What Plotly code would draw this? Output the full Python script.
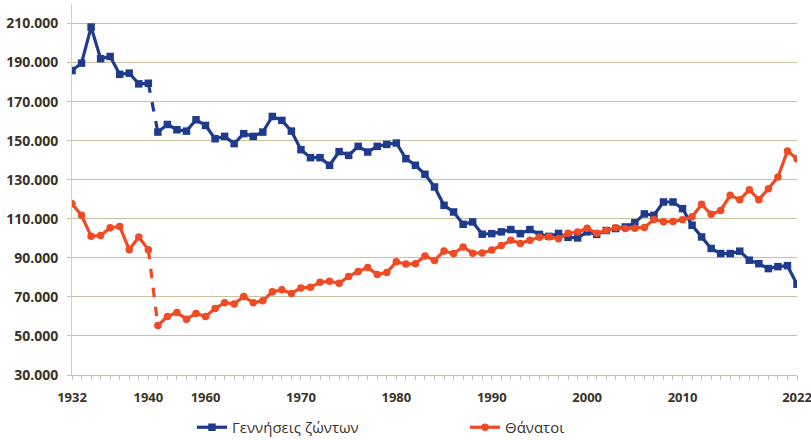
import plotly.graph_objects as go

# ---- data (thousands) ----
years_pre = [str(y) for y in range(1932, 1941)]
births_pre = [185.9, 189.7, 208.2, 192.0, 193.1, 184.0, 184.6, 179.1, 179.4]
deaths_pre = [117.7, 111.8, 101.0, 101.5, 105.4, 106.1, 94.2, 100.7, 94.2]

years_post = [str(y) for y in range(1955, 2023)]
births_post = [154.4, 158.3, 155.6, 154.9, 160.7, 157.8, 151.0, 152.2, 148.5, 153.6,
               152.2, 154.4, 162.4, 160.4, 154.9, 145.4, 141.3, 141.3, 137.4, 144.4,
               142.5, 147.1, 144.2, 147.1, 148.1, 148.8, 140.8, 137.4, 132.8, 126.3,
               116.9, 113.5, 107.2, 108.4, 102.1, 102.4, 103.3, 104.5, 102.4, 104.5,
               102.0, 101.0, 102.5, 100.5, 100.2, 103.3, 102.0, 104.0, 105.0, 105.8,
               108.0, 112.5, 111.8, 118.6, 118.6, 115.2, 106.7, 100.7, 94.8, 92.2,
               92.2, 93.4, 88.8, 87.0, 84.5, 85.5, 86.0, 76.5]
deaths_post = [55.3, 60.0, 62.0, 58.6, 61.5, 60.0, 64.0, 67.0, 66.4, 70.2,
               67.0, 68.0, 72.6, 73.6, 71.8, 74.6, 75.0, 77.5, 78.0, 77.0,
               80.5, 83.0, 85.0, 81.5, 82.5, 88.0, 86.8, 87.0, 91.0, 88.7,
               93.5, 92.2, 95.6, 92.4, 92.5, 94.0, 96.3, 99.0, 97.4, 99.0,
               100.5, 100.8, 99.8, 102.6, 103.2, 105.2, 102.6, 104.0, 105.4, 105.0,
               105.2, 105.6, 109.6, 108.5, 108.6, 109.5, 111.0, 117.4, 112.3, 114.3,
               122.0, 119.8, 124.9, 119.8, 125.4, 131.4, 144.7, 140.8]

label_years = ["1932", "1940", "1960", "1970", "1980", "1990", "2000", "2010", "2022"]

series_names = ["Γεννήσεις ζώντων", "Θάνατοι"]
colors = ["#1f3c8c", "#f04b24"]
symbols = ["square", "circle"]

categories = years_pre + years_post
k = 1000

fig = go.Figure()
for name, color, sym, pre, post in zip(series_names, colors, symbols,
                                       [births_pre, deaths_pre], [births_post, deaths_post]):
    # dashed gap segment
    fig.add_trace(go.Scatter(x=[years_pre[-1], years_post[0]], y=[pre[-1] * k, post[0] * k],
                             mode="lines", line=dict(color=color, width=3.2, dash="dash"),
                             showlegend=False, hoverinfo="skip", legendgroup=name))
    fig.add_trace(go.Scatter(x=years_pre, y=[v * k for v in pre], mode="lines+markers",
                             line=dict(color=color, width=3.2),
                             marker=dict(symbol=sym, size=7.5, color=color),
                             name=name, legendgroup=name, showlegend=False))
    fig.add_trace(go.Scatter(x=years_post, y=[v * k for v in post], mode="lines+markers",
                             line=dict(color=color, width=3.2),
                             marker=dict(symbol=sym, size=7.5, color=color),
                             name=name, legendgroup=name, showlegend=True))

tick_text = [c if c in label_years else "" for c in categories]

font_fam = "Open Sans, Lato, sans-serif"
fig.update_layout(
    width=811, height=440,
    margin=dict(l=72, r=14, t=4, b=65, autoexpand=False),
    plot_bgcolor="white", paper_bgcolor="white",
    separators=",.",
    font=dict(family=font_fam, color="#3a3226"),
    xaxis=dict(type="category", categoryorder="array", categoryarray=categories,
               range=[0, len(categories) - 1], automargin=False,
               tickmode="array", tickvals=categories, ticktext=tick_text,
               tickangle=0,
               showgrid=False, showline=True, linecolor="#c6c1a8", linewidth=1,
               ticks="outside", ticklen=4, tickcolor="#c6c1a8",
               tickfont=dict(size=13, family=font_fam, color="#3a3226", weight="bold"),
               ticklabelstandoff=6, zeroline=False),
    yaxis=dict(range=[30000, 220000], tick0=30000, dtick=20000, tickformat=",",
               automargin=False,
               showgrid=True, gridcolor="#c6c1a0", gridwidth=1,
               showline=True, linecolor="#cfcfcf", linewidth=1,
               ticks="outside", ticklen=4, tickcolor="#c6c1a8",
               tickfont=dict(size=14, family=font_fam, color="#3a3226", weight="bold"),
               ticklabelstandoff=6, zeroline=False),
    legend=dict(orientation="h", x=0.1655, xanchor="left", y=-0.097, yanchor="top",
                entrywidth=228, entrywidthmode="pixels",
                font=dict(size=15, family=font_fam, color="#3a3226"),
                itemwidth=30),
    showlegend=True,
)

fig.write_html("out.html",
               config={"displayModeBar": False, "staticPlot": True},
               post_script="document.body.style.margin='0';document.body.style.padding='0';")
